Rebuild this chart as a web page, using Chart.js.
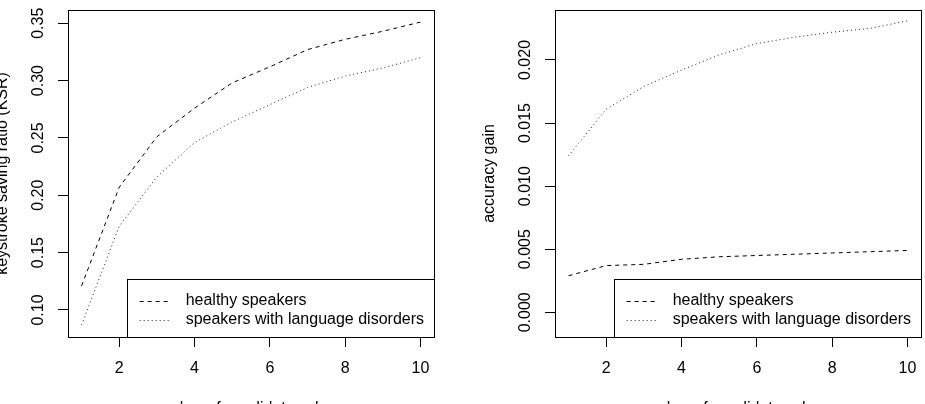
<!DOCTYPE html>
<html>
<head>
<meta charset="utf-8">
<script src="https://cdn.jsdelivr.net/npm/chart.js@4.4.0/dist/chart.umd.min.js"></script>
<style>
  body { margin: 0; background: #fff; }
  #wrap { position: relative; width: 925px; height: 404px; overflow: hidden; }
  canvas { position: absolute; top: 0; }
</style>
</head>
<body>
<div id="wrap">
  <canvas id="ksrChart" width="462" height="404" style="left:0px"></canvas>
  <canvas id="accChart" width="463" height="404" style="left:462px"></canvas>
</div>
<script>
// data
var candidates = [1, 2, 3, 4, 5, 6, 7, 8, 9, 10];
var ksrHealthy  = [0.121, 0.207, 0.251, 0.276, 0.298, 0.312, 0.327, 0.336, 0.343, 0.351];
var ksrDisorder = [0.087, 0.173, 0.216, 0.246, 0.264, 0.279, 0.294, 0.304, 0.311, 0.320];
var accHealthy  = [0.0029, 0.0037, 0.0038, 0.0042, 0.0044, 0.0045, 0.0046, 0.0047, 0.0048, 0.0049];
var accDisorder = [0.0124, 0.0161, 0.0179, 0.0192, 0.0204, 0.0213, 0.0218, 0.0222, 0.0225, 0.0231];

var xTicks = [2, 4, 6, 8, 10];
var ksrTicks = [0.10, 0.15, 0.20, 0.25, 0.30, 0.35];
var ksrTickLabels = ['0.10', '0.15', '0.20', '0.25', '0.30', '0.35'];
var accTicks = [0, 0.005, 0.010, 0.015, 0.020];
var accTickLabels = ['0.000', '0.005', '0.010', '0.015', '0.020'];

var legendLabels = ['healthy speakers', 'speakers with language disorders'];
var xTitle = 'number of candidates shown';

var FONT = '16px "Liberation Sans", Arial, sans-serif';

function pts(ys) {
    return candidates.map(function (x, i) { return { x: x, y: ys[i] }; });
}

// R-ish axis extension (4%)
function rng(lo, hi) {
    var d = (hi - lo) * 0.04;
    return [lo - d, hi + d];
}

// box, rotated y labels, titles and legend, R style
var rStyle = {
    id: 'rStyle',
    afterDraw: function (chart) {
        var ctx = chart.ctx;
        var a = chart.chartArea;
        var o = chart.options.plugins.rStyle;
        var ys = chart.scales.y;
        ctx.save();
        ctx.strokeStyle = '#000';
        ctx.lineWidth = 1;
        ctx.strokeRect(a.left + 0.5, a.top + 0.5, a.right - a.left, a.bottom - a.top);

        ctx.fillStyle = '#000';
        ctx.font = FONT;
        // y tick labels, parallel to axis
        o.ticks.forEach(function (v, i) {
            var py = ys.getPixelForValue(v);
            ctx.save();
            ctx.translate(a.left - 29, py);
            ctx.rotate(-Math.PI / 2);
            ctx.textAlign = 'center';
            ctx.textBaseline = 'middle';
            ctx.fillText(o.tickLabels[i], 0, 0);
            ctx.restore();
        });
        // y title
        ctx.save();
        ctx.translate(a.left - 61, (a.top + a.bottom) / 2);
        ctx.rotate(-Math.PI / 2);
        ctx.textAlign = 'center';
        ctx.textBaseline = 'alphabetic';
        ctx.fillText(o.yTitle, 0, 0);
        ctx.restore();
        // x title
        ctx.textAlign = 'center';
        ctx.textBaseline = 'alphabetic';
        ctx.fillText(xTitle, (a.left + a.right) / 2, a.bottom + 76);

        // legend bottomright
        var tw = Math.max.apply(null, legendLabels.map(function (t) { return ctx.measureText(t).width; }));
        var lw = tw + 69, lh = 58;
        var lx = a.right - lw, ly = a.bottom - lh;
        ctx.fillStyle = '#fff';
        ctx.fillRect(lx, ly, lw, lh);
        ctx.strokeRect(Math.round(lx) + 0.5, ly + 0.5, a.right - Math.round(lx), lh);
        ctx.fillStyle = '#000';
        ctx.textAlign = 'left';
        ctx.textBaseline = 'middle';
        chart.data.datasets.forEach(function (ds, i) {
            var ry = ly + 21.5 + i * 19;
            ctx.save();
            ctx.strokeStyle = ds.borderColor;
            ctx.setLineDash(ds.borderDash);
            ctx.beginPath();
            ctx.moveTo(lx + 13, Math.round(ry) + 0.5);
            ctx.lineTo(lx + 43, Math.round(ry) + 0.5);
            ctx.stroke();
            ctx.restore();
            ctx.fillText(legendLabels[i], lx + 59, ry);
        });
        ctx.restore();
    }
};

function makeChart(id, healthy, disorder, yMin, yMax, ticks, tickLabels, yTitle, padRight, yWidth) {
    var xr = rng(1, 10);
    var ctx = document.getElementById(id).getContext('2d');
    return new Chart(ctx, {
        type: 'line',
        data: {
            datasets: [{
                label: legendLabels[0],
                data: pts(healthy),
                borderColor: '#000',
                borderWidth: 1,
                borderDash: [4, 4],
                pointRadius: 0,
                fill: false
            }, {
                label: legendLabels[1],
                data: pts(disorder),
                borderColor: '#222',
                borderWidth: 1,
                borderDash: [1, 3],
                pointRadius: 0,
                fill: false
            }]
        },
        options: {
            responsive: false,
            animation: false,
            layout: { padding: { top: 10, right: padRight, left: 0, bottom: 0 } },
            plugins: {
                legend: { display: false },
                tooltip: { enabled: false },
                rStyle: { ticks: ticks, tickLabels: tickLabels, yTitle: yTitle }
            },
            scales: {
                x: {
                    type: 'linear',
                    min: xr[0],
                    max: xr[1],
                    afterBuildTicks: function (s) { s.ticks = xTicks.map(function (v) { return { value: v }; }); },
                    afterFit: function (s) { s.height = 67; s.paddingLeft = 0; s.paddingRight = 0; },
                    ticks: { color: '#000', font: { family: '"Liberation Sans", Arial, sans-serif', size: 16 }, padding: 12, maxRotation: 0 },
                    grid: { drawOnChartArea: false, drawTicks: true, tickLength: 10, color: '#000' },
                    border: { display: false }
                },
                y: {
                    type: 'linear',
                    min: yMin,
                    max: yMax,
                    afterBuildTicks: function (s) { s.ticks = ticks.map(function (v) { return { value: v }; }); },
                    afterFit: function (s) { s.width = yWidth; s.paddingTop = 0; s.paddingBottom = 0; },
                    ticks: { display: true, color: 'rgba(0,0,0,0)' },
                    grid: { drawOnChartArea: false, drawTicks: true, tickLength: 10, color: '#000' },
                    border: { display: false }
                }
            }
        },
        plugins: [rStyle]
    });
}

var ksrRange = rng(Math.min.apply(null, ksrDisorder), Math.max.apply(null, ksrHealthy));
makeChart('ksrChart', ksrHealthy, ksrDisorder, ksrRange[0], ksrRange[1], ksrTicks, ksrTickLabels, 'keystroke saving ratio (KSR)', 28, 68);
var accRange = rng(-0.001, 0.023);
// right panel: chart area starts at 555 in the page
makeChart('accChart', accHealthy, accDisorder, accRange[0], accRange[1], accTicks, accTickLabels, 'accuracy gain', 4, 93);
</script>
</body>
</html>
